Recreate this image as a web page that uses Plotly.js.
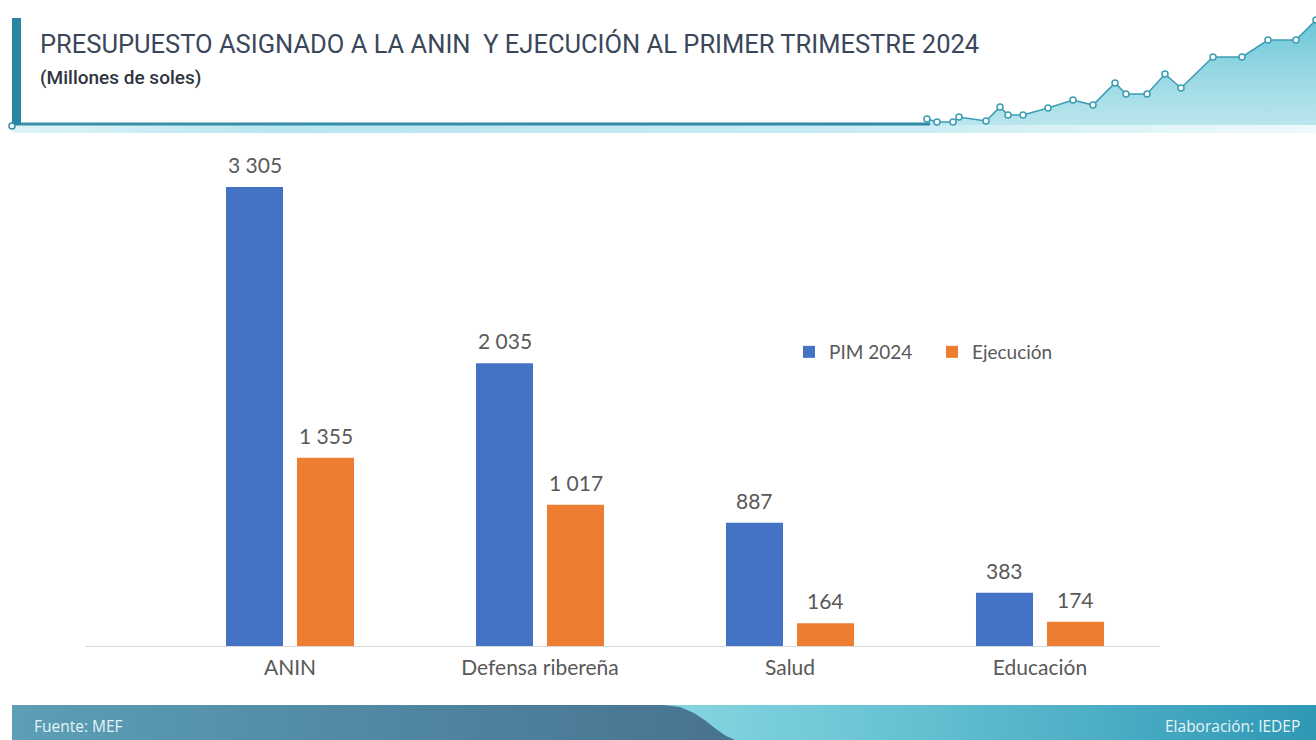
<!DOCTYPE html>
<html>
<head>
<meta charset="utf-8">
<script src="https://cdn.plot.ly/plotly-3.0.1.min.js"></script>
<style>
html,body{margin:0;padding:0;background:#fff;}
#chart{width:1316px;height:740px;}
</style>
</head>
<body>
<div id="chart"></div>
<script>
// ---- Data ----
const categories = ["ANIN", "Defensa ribereña", "Salud", "Educación"];
const pim2024 = [3305, 2035, 887, 383];
const ejecucion = [1355, 1017, 164, 174];
const seriesNames = ["PIM 2024", "Ejecución"];

// Decorative header sparkline (pixel coords of the banner artwork)
const decoX = [927, 937, 953, 959, 986, 1000, 1008, 1023, 1048, 1073, 1093, 1115, 1126, 1147, 1165, 1181, 1213, 1242, 1268, 1296, 1316];
const decoY = [119, 122, 122, 117, 121, 107, 115, 115, 108, 100, 105, 83, 94, 94, 74, 88, 57, 57, 40, 40, 20];

const W = 1316, H = 740;
const fmt = v => String(v).replace(/\B(?=(\d{3})+(?!\d))/g, " ");

const BLUE = "#4472c4", ORANGE = "#ed7d31", GRAY = "#595959";
const TEAL = "#2f8ba6";

const traces = [];

// --- Background artwork on pixel axes (x / y) ---
traces.push({
  x: [12, 1316, 1316, 12], y: [125, 125, 133, 133],
  mode: "lines", line: {width: 0}, fill: "toself",
  fillgradient: {type: "horizontal", colorscale: [[0, "rgba(200,236,243,0.6)"], [0.2, "rgba(175,226,238,0.9)"], [0.7, "rgba(190,232,240,0.8)"], [1, "rgba(220,244,248,0.5)"]]},
  hoverinfo: "skip", showlegend: false, xaxis: "x", yaxis: "y"
});
traces.push({
  x: decoX.concat([1316, 927]), y: decoY.concat([125, 125]),
  mode: "lines", line: {width: 0}, fill: "toself",
  fillgradient: {type: "vertical", colorscale: [[0, "rgba(140,212,224,0.6)"], [1, "rgba(90,192,210,0.9)"]]},
  hoverinfo: "skip", showlegend: false, xaxis: "x", yaxis: "y"
});
traces.push({
  x: [12, 930, 930, 12], y: [122.5, 122.5, 125.5, 125.5],
  mode: "lines", line: {width: 0}, fill: "toself",
  fillgradient: {type: "horizontal", colorscale: [[0, "#3b8fa6"], [1, "#2c8aa6"]]},
  hoverinfo: "skip", showlegend: false, xaxis: "x", yaxis: "y"
});
traces.push({
  x: [12, 21, 21, 12], y: [18, 18, 125, 125],
  mode: "lines", line: {width: 0}, fill: "toself", fillcolor: "#2a86a0",
  hoverinfo: "skip", showlegend: false, xaxis: "x", yaxis: "y"
});
traces.push({
  x: [12], y: [126], mode: "markers",
  marker: {size: 6, color: "#ffffff", line: {color: TEAL, width: 1.5}},
  hoverinfo: "skip", showlegend: false, xaxis: "x", yaxis: "y"
});
traces.push({
  x: decoX, y: decoY, mode: "lines+markers",
  line: {color: "#3c9db5", width: 1.6},
  marker: {size: 6, color: "#ffffff", line: {color: "#3c9db5", width: 1.5}},
  hoverinfo: "skip", showlegend: false, xaxis: "x", yaxis: "y"
});
traces.push({
  x: [660, 1316, 1316, 660], y: [705, 705, 740, 740],
  mode: "lines", line: {width: 0}, fill: "toself",
  fillgradient: {type: "horizontal", colorscale: [[0, "#86d6e0"], [0.25, "#72c9d8"], [1, "#2f98b5"]]},
  hoverinfo: "skip", showlegend: false, xaxis: "x", yaxis: "y"
});
traces.push({
  x: [12, 664, 680, 694, 706, 716, 726, 735, 12],
  y: [705, 705, 707, 713, 721, 729, 736, 740, 740],
  mode: "lines", line: {width: 0}, fill: "toself",
  fillgradient: {type: "horizontal", colorscale: [[0, "#5c9fb6"], [0.6, "#4f83a0"], [1, "#48738f"]]},
  hoverinfo: "skip", showlegend: false, xaxis: "x", yaxis: "y"
});

// --- Bars on x2/y2 ---
traces.push({
  type: "bar", name: seriesNames[0], x: categories, y: pim2024,
  marker: {color: BLUE}, xaxis: "x2", yaxis: "y2", hoverinfo: "x+y"
});
traces.push({
  type: "bar", name: seriesNames[1], x: categories, y: ejecucion,
  marker: {color: ORANGE}, xaxis: "x2", yaxis: "y2", hoverinfo: "x+y"
});

const annotations = [];
const vals = [pim2024, ejecucion];
vals.forEach((arr, s) => {
  arr.forEach((v, i) => {
    annotations.push({
      x: categories[i], y: v, xref: "x2", yref: "y2",
      text: fmt(v), showarrow: false, yanchor: "bottom",
      xshift: s === 0 ? -35.5 : 35.5, yshift: 8,
      font: {family: "Lato, sans-serif", size: 21, color: GRAY}
    });
  });
});
annotations.push({
  x: 38, y: 44, xref: "x", yref: "y", xanchor: "left", yanchor: "middle",
  text: "PRESUPUESTO ASIGNADO A LA ANIN  Y EJECUCIÓN AL PRIMER TRIMESTRE 2024",
  showarrow: false, font: {family: "Roboto, sans-serif", size: 25.5, color: "#3a475b"}
});
annotations.push({
  x: 38, y: 77, xref: "x", yref: "y", xanchor: "left", yanchor: "middle",
  text: "(Millones de soles)",
  showarrow: false, font: {family: "Roboto, sans-serif", size: 19, color: "#2f3540", weight: 500}
});
annotations.push({
  x: 32, y: 726, xref: "x", yref: "y", xanchor: "left", yanchor: "middle",
  text: "Fuente: MEF", showarrow: false,
  font: {family: "'Open Sans', sans-serif", size: 15.5, color: "#e6f4f7"}
});
annotations.push({
  x: 1302, y: 726, xref: "x", yref: "y", xanchor: "right", yanchor: "middle",
  text: "Elaboración: IEDEP", showarrow: false,
  font: {family: "'Open Sans', sans-serif", size: 15.5, color: "#e6f4f7"}
});

const layout = {
  width: W, height: H,
  margin: {l: 0, r: 0, t: 0, b: 0},
  paper_bgcolor: "#ffffff", plot_bgcolor: "rgba(0,0,0,0)",
  showlegend: true,
  barmode: "group", bargap: 0.432, bargroupgap: 0.197,
  xaxis: {domain: [0, 1], range: [0, W], visible: false, fixedrange: true},
  yaxis: {domain: [0, 1], range: [H, 0], visible: false, fixedrange: true},
  xaxis2: {
    domain: [85 / W, 1160 / W], anchor: "y2", type: "category",
    range: [-0.82, 3.48],
    showline: true, linecolor: "#d9d9d9", linewidth: 1,
    ticks: "", showgrid: false, zeroline: false, ticklabelstandoff: 3,
    tickfont: {family: "Lato, sans-serif", size: 21, color: GRAY}, fixedrange: true
  },
  yaxis2: {
    domain: [94 / H, 1 - 140 / H], anchor: "x2",
    range: [0, 3643], visible: false, showgrid: false, zeroline: false, fixedrange: true
  },
  legend: {
    orientation: "h", x: 789 / W, y: 1 - 352 / H, xanchor: "left", yanchor: "middle",
    bgcolor: "rgba(0,0,0,0)", font: {family: "Lato, sans-serif", size: 19, color: GRAY},
    entrywidth: 98, entrywidthmode: "pixels"
  },
  annotations: annotations
};

Plotly.newPlot("chart", traces, layout, {displayModeBar: false, staticPlot: true});
</script>
</body>
</html>
